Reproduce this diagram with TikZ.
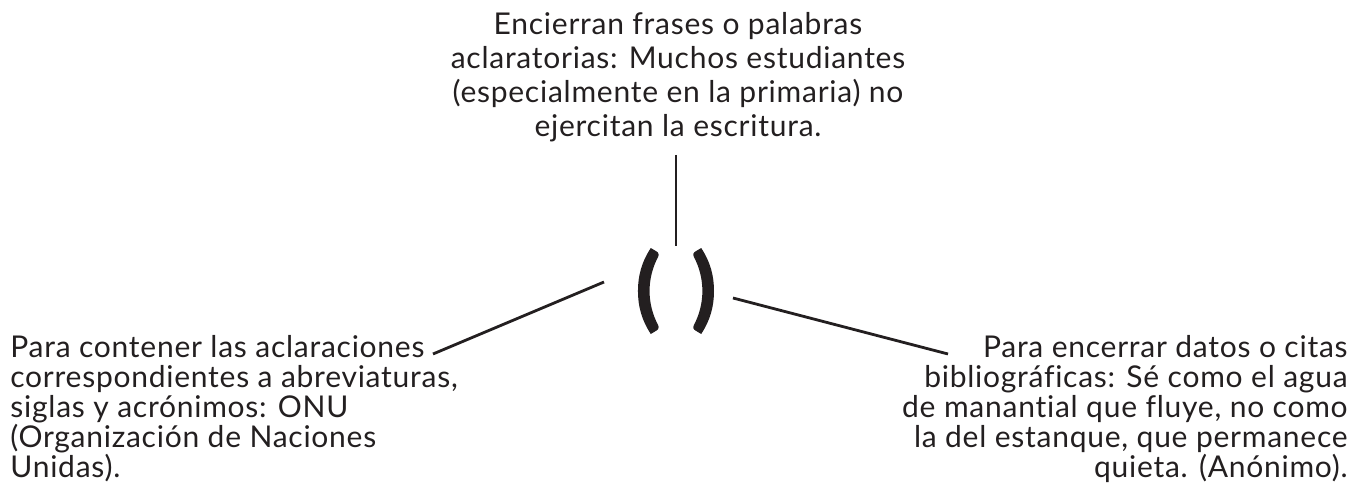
\documentclass[tikz,border=0pt]{standalone}
\usepackage{fontspec}
\setmainfont{Lato}[Ligatures=NoCommon, LetterSpace=2.5]
\newfontfamily\parenfont{Lato}[FakeBold=2.5]
\definecolor{ink}{HTML}{231F20}
\begin{document}
\begin{tikzpicture}[x=0.5pt,y=-0.5pt,
  txt/.style={inner sep=0pt, text=ink, font=\fontsize{15}{15}\selectfont},
  conn/.style={draw=ink, line width=1.4pt}]
\useasboundingbox (0,0) rectangle (1356,497);
\node[txt, font=\fontsize{15}{17}\selectfont, align=center, anchor=north] (top) at (678,12)
  {Encierran frases o palabras\\aclaratorias: Muchos estudiantes\\(especialmente en la primaria) no\\ejercitan la escritura.};
\node[txt, align=left, anchor=north west] (left) at (10,335)
  {Para contener las aclaraciones\\correspondientes a abreviaturas,\\siglas y acrónimos: ONU\\(Organización de Naciones\\Unidas).};
\node[txt, align=right, anchor=north east] (right) at (1348,335)
  {Para encerrar datos o citas\\bibliográficas: Sé como el agua\\de manantial que fluye, no como\\la del estanque, que permanece\\quieta. (Anónimo).};
\node[inner sep=0pt, text=ink, font=\fontsize{44}{48}\parenfont\bfseries] (paren) at (676,291) {(\hspace{16pt})};
\coordinate (v1) at (676,155);
\coordinate (v2) at (676,246);
\coordinate (l1) at (604,282);
\coordinate (l2) at (433,354);
\coordinate (r1) at (733,298);
\coordinate (r2) at (948,354);
\draw[conn] (v1) -- (v2);
\draw[conn] (l1) -- (l2);
\draw[conn] (r1) -- (r2);
\end{tikzpicture}
\end{document}
